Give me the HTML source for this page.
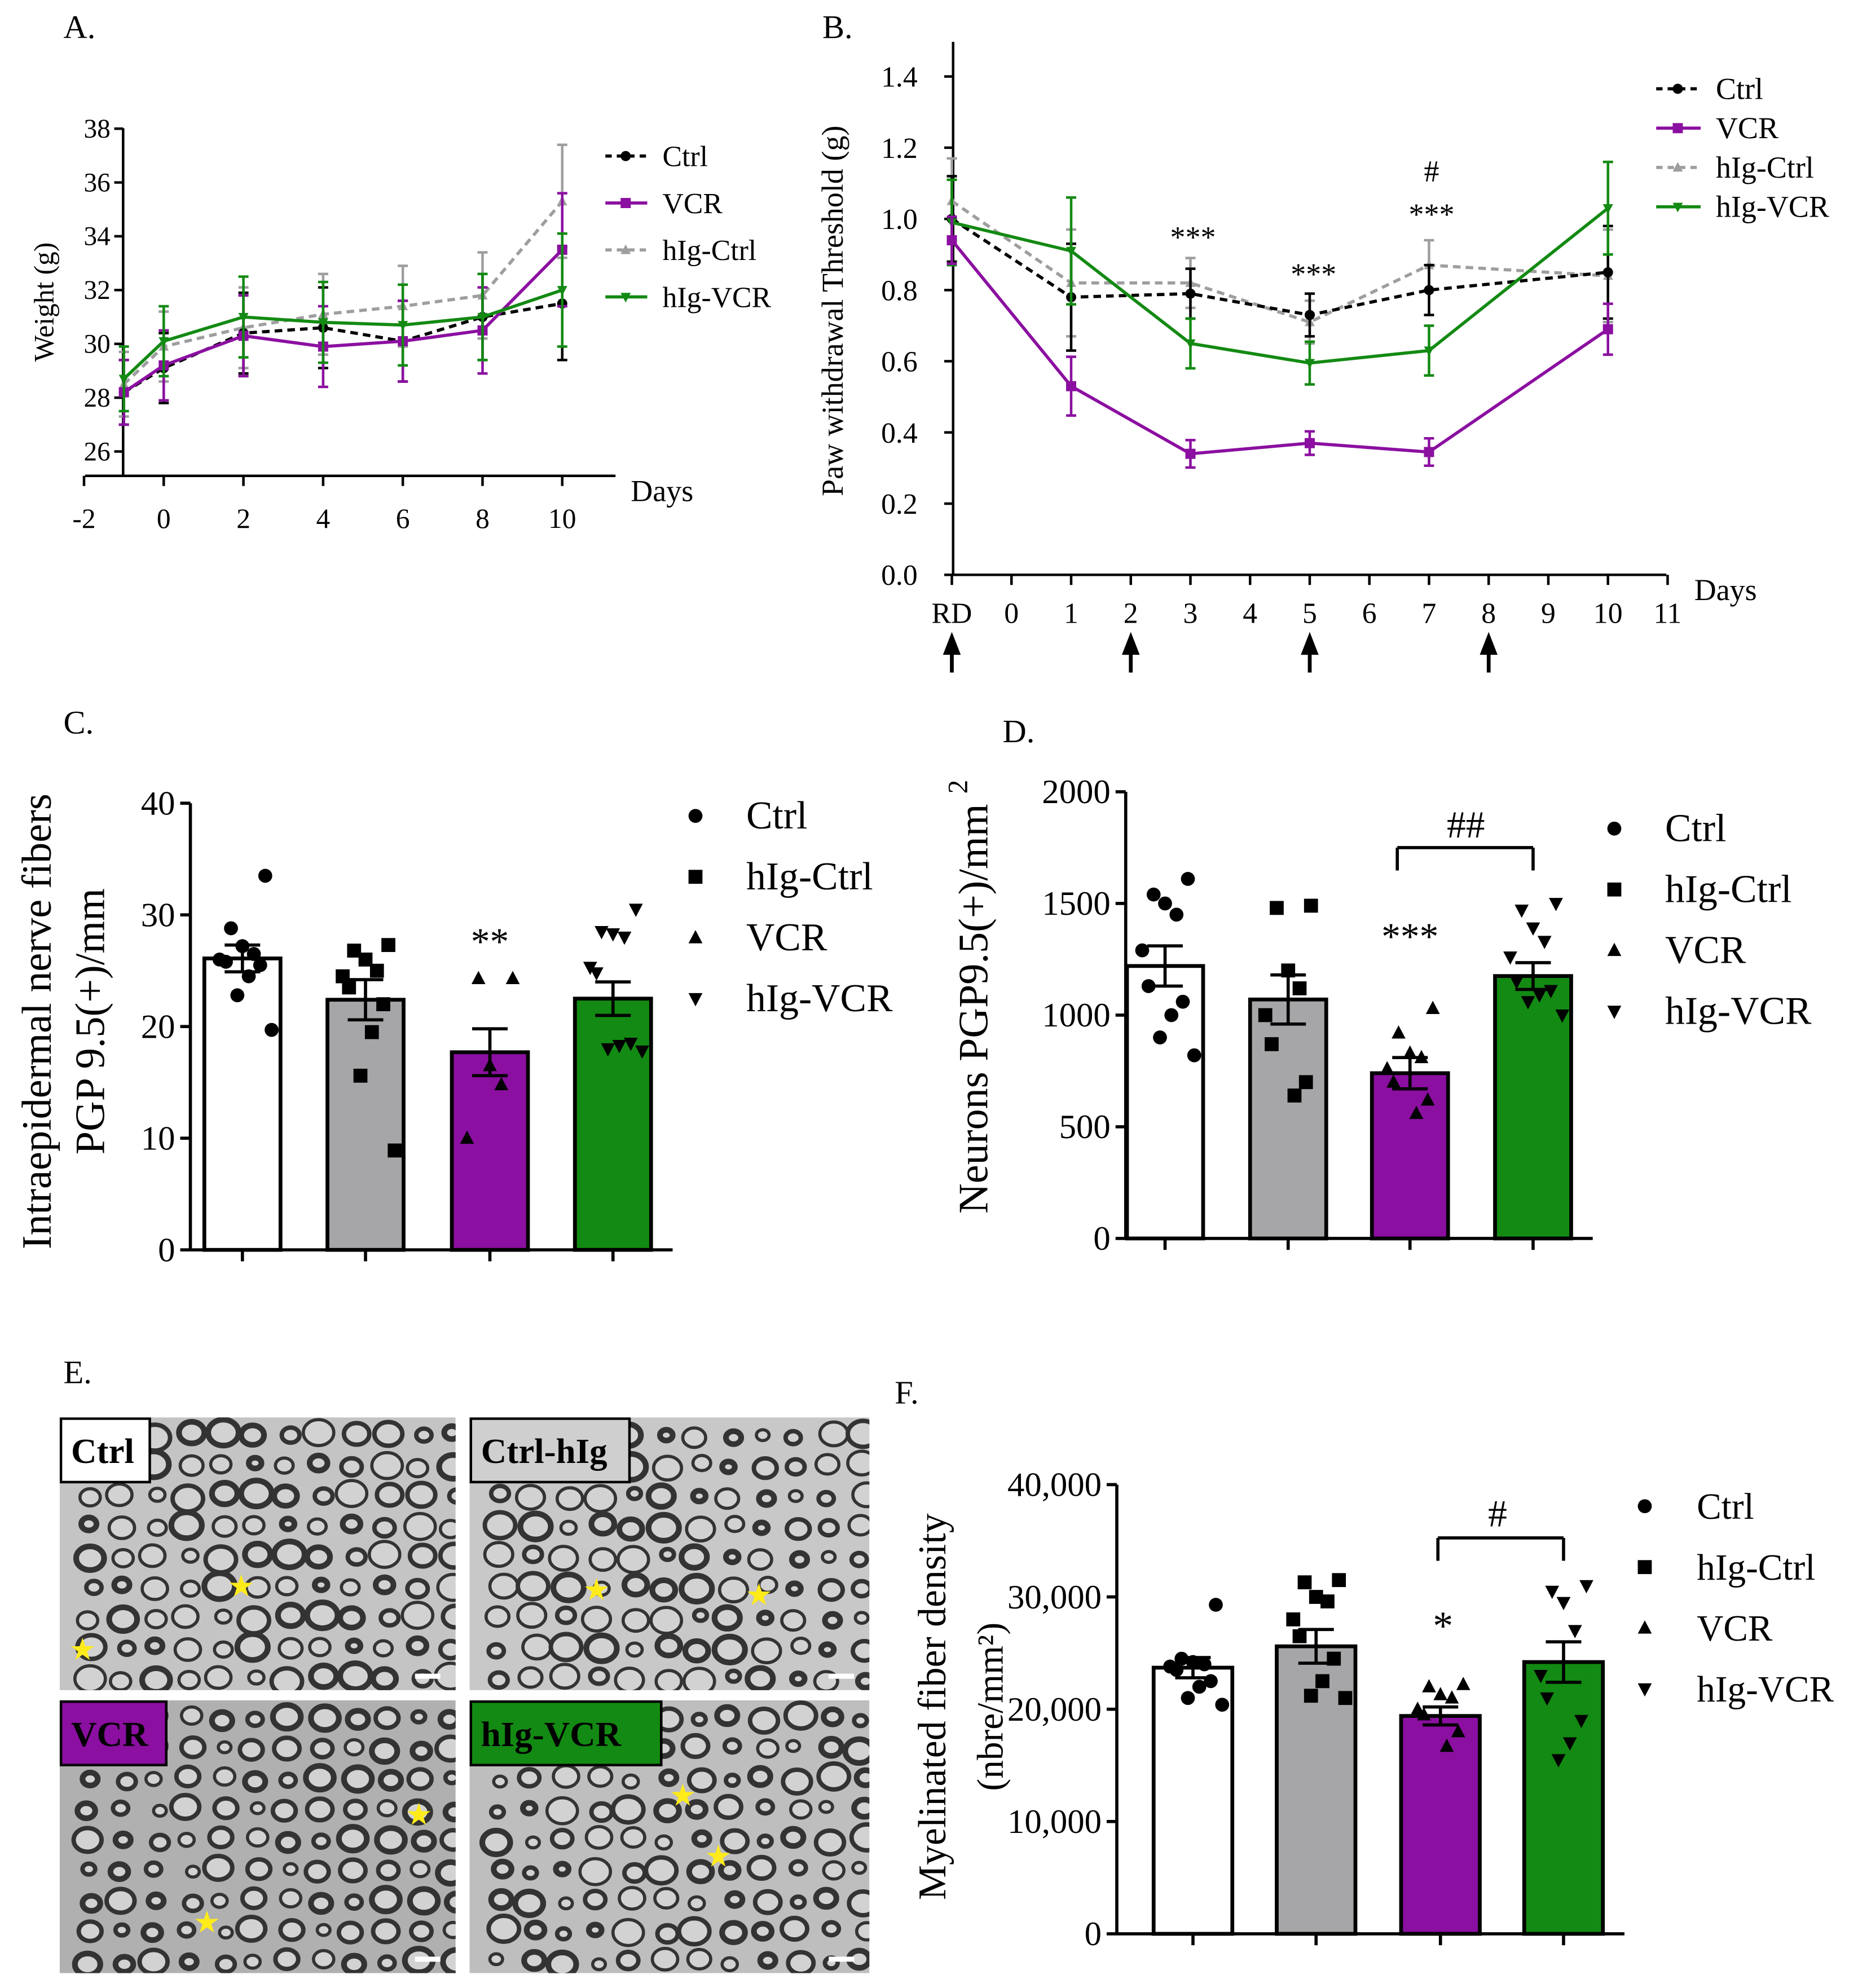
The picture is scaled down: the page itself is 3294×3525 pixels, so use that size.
<!DOCTYPE html>
<html><head><meta charset="utf-8"><style>
html,body{margin:0;padding:0;background:#fff}
svg{display:block}
text{font-family:"Liberation Serif",serif;fill:#000}
</style></head><body>
<svg id="s" width="3294" height="3525" viewBox="0 0 1464 1566.7" xmlns="http://www.w3.org/2000/svg">
<defs id="defs"></defs>
<g id="g"></g>
</svg>
<script>
// ---- Panel A data ----
const aDays=[-1,0,2,4,6,8,10];
const aCtrl=[28.2,29.1,30.4,30.6,30.1,31.0,31.5];
const aVCR=[28.2,29.2,30.3,29.9,30.1,30.5,33.5];
const aHCtrl=[28.5,29.9,30.6,31.1,31.4,31.8,35.3];
const aHVCR=[28.7,30.1,31.0,30.8,30.7,31.0,32.0];
const aErr=[1.2,1.3,1.5,1.5,1.5,1.6,2.1];
const aYTicks=[26,28,30,32,34,36,38];
const aXTicks=[-2,0,2,4,6,8,10];
// ---- Panel B data ----
const bDays=[-1,1,3,5,7,10];
const bCtrl=[1.0,0.78,0.79,0.73,0.80,0.85];
const bVCR=[0.94,0.53,0.34,0.37,0.345,0.69];
const bHCtrl=[1.05,0.82,0.82,0.71,0.87,0.84];
const bHVCR=[0.99,0.91,0.65,0.595,0.63,1.03];
const bErr=[0.12,0.15,0.07,0.06,0.07,0.13];
const bYTicks=[0,0.2,0.4,0.6,0.8,1.0,1.2,1.4];
const bXTicks=[-1,0,1,2,3,4,5,6,7,8,9,10,11];
const bArrows=[-1,2,5,8];
// ---- Panel C data ----
const cGroups=["Ctrl","hIg-Ctrl","VCR","hIg-VCR"];
const cMeans=[26.1,22.4,17.7,22.5];
const cSem=[1.2,1.8,2.1,1.5];
const cPts=[[33.5,28.8,27.2,26.5,26.0,25.8,25.5,24.5,22.8,19.7],[27.3,26.8,26.0,25.0,24.5,23.5,22.0,19.5,15.6,8.9],[24.3,24.3,16.5,14.8,10.0],[30.5,28.5,28.3,28.0,25.3,24.8,18.5,18.3,18.0,17.8]];
const cTicks=[0,10,20,30,40];
// ---- Panel D data ----
const dMeans=[1220,1070,740,1175];
const dSem=[90,110,70,60];
const dPts=[[1610,1540,1500,1450,1290,1130,1060,1000,900,820],[1490,1480,1200,1120,1000,870,700,640],[1030,920,830,810,760,700,620,560],[1500,1470,1390,1330,1260,1150,1110,1090,1060,1000]];
const dTicks=[0,500,1000,1500,2000];
// ---- Panel F data ----
const fMeans=[23700,25600,19400,24200];
const fSem=[900,1500,800,1800];
const fPts=[[29300,24500,24200,24000,23800,23500,22500,22000,21000,20400],[31500,31300,30000,29600,28000,26500,24500,22500,21200,21000],[22200,22000,21300,21000,20000,19500,18000,16700],[31000,30500,29500,27000,23000,21000,19000,17000,15500]];
const fTicks=[0,10000,20000,30000,40000];

const NS="http://www.w3.org/2000/svg";
const G=document.getElementById('g');
const DEFS=document.getElementById('defs');
function el(tag,attrs,parent,txt){const e=document.createElementNS(NS,tag);for(const k in attrs)e.setAttribute(k,attrs[k]);if(txt!==undefined)e.textContent=txt;(parent||G).appendChild(e);return e;}
function txt(x,y,s,size,anchor,name,extra){const t=el('text',Object.assign({x:x,y:y,'font-size':size,'text-anchor':anchor||'start'},extra||{}),G,s);

return t;}
function line(x1,y1,x2,y2,st,w,name,dash){const l=el('line',{x1,y1,x2,y2,stroke:st,'stroke-width':w});if(dash)l.setAttribute('stroke-dasharray',dash);

return l;}
function marker(type,x,y,r,fill,name){let e;
 if(type==='c')e=el('circle',{cx:x,cy:y,r:r,fill:fill});
 else if(type==='s')e=el('rect',{x:x-r,y:y-r,width:2*r,height:2*r,fill:fill});
 else if(type==='t')e=el('polygon',{points:`${x},${y-r*1.1} ${x-r},${y+r*0.8} ${x+r},${y+r*0.8}`,fill:fill});
 else e=el('polygon',{points:`${x},${y+r*1.1} ${x-r},${y-r*0.8} ${x+r},${y-r*0.8}`,fill:fill});
 
 return e;}

// ================= Panel A =================
(function(){
 const X=d=>129+(d)*31.4, Y=v=>271-(v-30)*21.2;
 txt(50,30,"A.",26,'start','panel-a-label');
 line(97,101,97,375,'#000',2,'a-y-axis');
 line(67,375,485,375,'#000',2,'a-x-axis');
 aYTicks.forEach(v=>{line(90,Y(v),97,Y(v),'#000',2,'a-y-tick');txt(87,Y(v)+7,String(v),21,'end','a-y-tick-label');});
 aXTicks.forEach(v=>{line(X(v),375,X(v),383,'#000',2,'a-x-tick');txt(X(v),416,String(v),22,'middle','a-x-tick-label');});
 txt(497,395,"Days",24,'start','a-x-axis-title');
 txt(42,238,"Weight (g)",22,'middle','a-y-axis-title',{transform:'rotate(-90 42 238)'});
 const ser=[[aHCtrl,'#9e9e9e','t','6,4','hig-ctrl'],[aCtrl,'#000','c','6,4','ctrl'],[aVCR,'#8b0fa0','s',null,'vcr'],[aHVCR,'#138a13','v',null,'hig-vcr']];
 ser.forEach(([vals,c,m,dash,n])=>{
  const p=el('polyline',{points:vals.map((v,i)=>X(aDays[i])+','+Y(v)).join(' '),fill:'none',stroke:c,'stroke-width':2.5});
  if(dash)p.setAttribute('stroke-dasharray',dash);
  
  
  vals.forEach((v,i)=>{const x=X(aDays[i]),e=aErr[i]*21.2;line(x,Y(v)-e,x,Y(v)+e,c,2,'a-errbar-'+n);line(x-4,Y(v)-e,x+4,Y(v)-e,c,2,'a-errcap-'+n);line(x-4,Y(v)+e,x+4,Y(v)+e,c,2,'a-errcap-'+n);marker(m,x,Y(v),4,c,'a-point-'+n);});
 });
 const lg=[['Ctrl','#000','c','5,4'],['VCR','#8b0fa0','s',null],['hIg-Ctrl','#9e9e9e','t','5,4'],['hIg-VCR','#138a13','v',null]];
 lg.forEach(([t,c,m,d],i)=>{const y=123+i*37;line(477,y,510,y,c,2.5,'a-legend-line',d);marker(m,493,y,4,c,'a-legend-marker');txt(522,y+8,t,23,'start','a-legend-entry');});
})();

// ================= Panel B =================
(function(){
 const X=d=>797+d*47, Y=v=>453-v*280.5;
 txt(648,30,"B.",26,'start','panel-b-label');
 line(751,33,751,453,'#000',2,'b-y-axis');
 line(751,453,1313,453,'#000',2,'b-x-axis');
 bYTicks.forEach(v=>{line(744,Y(v),751,Y(v),'#000',2,'b-y-tick');txt(723,Y(v)+8,v.toFixed(1),23,'end','b-y-tick-label');});
 bXTicks.forEach(v=>{line(X(v),453,X(v),461,'#000',2,'b-x-tick');txt(X(v),491,v<0?'RD':String(v),23,'middle','b-x-tick-label');});
 bArrows.forEach(v=>{line(X(v),530,X(v),512,'#000',3,'b-injection-arrow');const a=el('polygon',{points:`${X(v)},498 ${X(v)-7},516 ${X(v)+7},516`,fill:'#000'});});
 txt(1335,473,"Days",24,'start','b-x-axis-title');
 txt(664,245,"Paw withdrawal Threshold (g)",24,'middle','b-y-axis-title',{transform:'rotate(-90 664 245)'});
 const ser=[[bHCtrl,'#9e9e9e','t','6,4','hig-ctrl'],[bCtrl,'#000','c','6,4','ctrl'],[bHVCR,'#138a13','v',null,'hig-vcr'],[bVCR,'#8b0fa0','s',null,'vcr']];
 ser.forEach(([vals,c,m,dash,n])=>{
  const p=el('polyline',{points:vals.map((v,i)=>X(bDays[i])+','+Y(v)).join(' '),fill:'none',stroke:c,'stroke-width':2.5});
  if(dash)p.setAttribute('stroke-dasharray',dash);
  
  
  vals.forEach((v,i)=>{const x=X(bDays[i]),e=bErr[i]*280.5*(n==='vcr'?0.55:1);line(x,Y(v)-e,x,Y(v)+e,c,2,'b-errbar-'+n);line(x-4,Y(v)-e,x+4,Y(v)-e,c,2,'b-errcap-'+n);line(x-4,Y(v)+e,x+4,Y(v)+e,c,2,'b-errcap-'+n);marker(m,x,Y(v),4,c,'b-point-'+n);});
 });
 txt(940,195,"***",24,'middle','b-significance-day3');
 txt(1035,224,"***",24,'middle','b-significance-day5');
 txt(1128,177,"***",24,'middle','b-significance-day7');
 txt(1128,143,"#",24,'middle','b-hash-day7');
 const lg=[['Ctrl','#000','c','5,4'],['VCR','#8b0fa0','s',null],['hIg-Ctrl','#9e9e9e','t','5,4'],['hIg-VCR','#138a13','v',null]];
 lg.forEach(([t,c,m,d],i)=>{const y=70+i*31;line(1305,y,1340,y,c,2.5,'b-legend-line',d);marker(m,1322,y,4,c,'b-legend-marker');txt(1352,y+8,t,24,'start','b-legend-entry');});
})();

// ================= Bar panels =================
const barFill=['#ffffff','#a6a6a8','#8b0fa0','#138a13'];
const mk=['c','s','t','v'];
function barPanel(o){
 const Y=v=>o.y0-v*o.k;
 txt(o.lx,o.ly,o.label,26,'start','panel-'+o.p+'-label');
 o.means.forEach((m,i)=>{const cx=o.cx[i];
  const r=el('rect',{x:cx-o.bw/2,y:Y(m),width:o.bw,height:o.y0-Y(m),fill:barFill[i],stroke:'#000','stroke-width':3});
  
  
 });
 o.pts.forEach((arr,i)=>{const cx=o.cx[i];arr.forEach((v,j)=>{const off=((j%5)-2)*9*(j%2?1:-1)+(j>=5?5:0);marker(mk[i],cx+off,Y(v),5.5,'#000',o.p+'-point');});});
 o.means.forEach((m,i)=>{const cx=o.cx[i],e=o.sem[i]*o.k;line(cx,Y(m)-e,cx,Y(m)+e,'#000',2.5,o.p+'-errbar');line(cx-14,Y(m)-e,cx+14,Y(m)-e,'#000',2.5,o.p+'-errcap');line(cx-14,Y(m),cx+14,Y(m),'#000',2.5,o.p+'-meanline');line(cx-14,Y(m)+e,cx+14,Y(m)+e,'#000',2.5,o.p+'-errcap');});
 line(o.ax,Y(o.ticks[o.ticks.length-1]),o.ax,o.y0,'#000',2.5,o.p+'-y-axis');
 line(o.ax,o.y0,o.xend,o.y0,'#000',2.5,o.p+'-x-axis');
 o.ticks.forEach(v=>{line(o.ax-8,Y(v),o.ax,Y(v),'#000',2.5,o.p+'-y-tick');txt(o.ax-12,Y(v)+9,o.fmt(v),27,'end',o.p+'-y-tick-label');});
 o.cx.forEach(cx=>line(cx,o.y0,cx,o.y0+9,'#000',2.5,o.p+'-x-tick'));
 cGroups.forEach((g,i)=>{const y=o.legY+i*o.legD;marker(mk[i],o.legMx,y,5.5,'#000',o.p+'-legend-marker');txt(o.legTx,y+10,g,o.legFs,'start',o.p+'-legend-entry');});
}
const fmtK=v=>v===0?'0':v.toLocaleString('en-US');
barPanel({p:'c',label:'C.',lx:50,ly:578,y0:985,k:8.8,cx:[191,288,386,483],bw:60,means:cMeans,sem:cSem,pts:cPts,ticks:cTicks,ax:150,xend:530,fmt:String,legY:643,legD:48,legMx:548,legTx:588,legFs:31});
txt(386,752,"**",30,'middle','c-significance-vcr');
txt(40,805,"Intraepidermal nerve fibers",33,'middle','c-y-axis-title-1',{transform:'rotate(-90 40 805)'});
txt(82,805,"PGP 9.5(+)/mm",33,'middle','c-y-axis-title-2',{transform:'rotate(-90 82 805)'});

barPanel({p:'d',label:'D.',lx:790,ly:585,y0:976,k:0.176,cx:[918,1015,1111,1208],bw:60,means:dMeans,sem:dSem,pts:dPts,ticks:dTicks,ax:887,xend:1255,fmt:String,legY:653,legD:48,legMx:1272,legTx:1312,legFs:31});
txt(1111,748,"***",30,'middle','d-significance-vcr');
line(1101,686,1101,668,'#000',2.5,'d-bracket-left');line(1101,668,1208,668,'#000',2.5,'d-bracket-top');line(1208,668,1208,686,'#000',2.5,'d-bracket-right');
txt(1155,660,"##",30,'middle','d-hash-bracket');
txt(778,795,"Neurons PGP9.5(+)/mm",33,'middle','d-y-axis-title',{transform:'rotate(-90 778 795)'});
txt(762,620,"2",22,'middle','d-y-axis-superscript',{transform:'rotate(-90 762 620)'});

barPanel({p:'f',label:'F.',lx:705,ly:1106,y0:1524,k:0.00885,cx:[940,1037,1135,1232],bw:62,means:fMeans,sem:fSem,pts:fPts,ticks:fTicks,ax:880,xend:1280,fmt:fmtK,legY:1187,legD:48,legMx:1296,legTx:1337,legFs:29});
txt(1137,1292,"*",32,'middle','f-significance-vcr');
line(1133,1230,1133,1212,'#000',2.5,'f-bracket-left');line(1133,1212,1232,1212,'#000',2.5,'f-bracket-top');line(1232,1212,1232,1230,'#000',2.5,'f-bracket-right');
txt(1180,1203,"#",30,'middle','f-hash-bracket');
txt(745,1345,"Myelinated fiber density",31,'middle','f-y-axis-title-1',{transform:'rotate(-90 745 1345)'});
txt(790,1345,"(nbre/mm²)",29,'middle','f-y-axis-title-2',{transform:'rotate(-90 790 1345)'});

// ================= Panel E micrographs =================
txt(50,1090,"E.",26,'start','panel-e-label');
const panels=[[47,1117,312,215,'Ctrl','#fff',70,[[65,1300],[190,1250]],'#c4c4c4'],[370,1117,315,215,'Ctrl-hIg','#cfcfcf',125,[[470,1253],[598,1257]],'#c8c8c8'],[47,1340,312,215,'VCR','#8b0fa0',83,[[330,1430],[163,1515]],'#b0b0b0'],[370,1340,315,215,'hIg-VCR','#138a13',150,[[538,1415],[566,1463]],'#bebebe']];
panels.forEach(([x,y,w,h,lab,bg,lw,stars,base],pi)=>{
 const cp=el('clipPath',{id:'clip'+pi},DEFS);el('rect',{x,y,width:w,height:h},cp);
 const gr=el('g',{'clip-path':'url(#clip'+pi+')'});
 el('rect',{x,y,width:w,height:h,fill:base},gr);
 let s=pi*7+3;
 for(let yy=y+14;yy<y+h;yy+=24){for(let xx=x+12+((yy-y)%48?12:0);xx<x+w;xx+=26){s=(s*37+11)%101;const r=5+(s%8);el('ellipse',{cx:xx+(s%7)-3,cy:yy+(s%5)-2,rx:r,ry:r*0.85,fill:'#d2d2d2',stroke:'#333','stroke-width':2.5+(s%3)},gr);}}
 stars.forEach(([sx,sy])=>{const t=el('text',{x:sx,y:sy+8,'font-size':24,'text-anchor':'middle',fill:'#ffeb1a'},gr,'★');t.setAttribute('style','fill:#ffeb1a');});
 el('rect',{x:x+w-32,y:y+h-13,width:20,height:4,fill:'#fff'},gr);
 el('rect',{x:x+1,y:y+1,width:lw,height:50,fill:bg,stroke:'#000','stroke-width':2},gr);
 el('text',{x:x+9,y:y+36,'font-size':28,'font-weight':'bold'},gr,lab);
});
</script>
</body></html>
